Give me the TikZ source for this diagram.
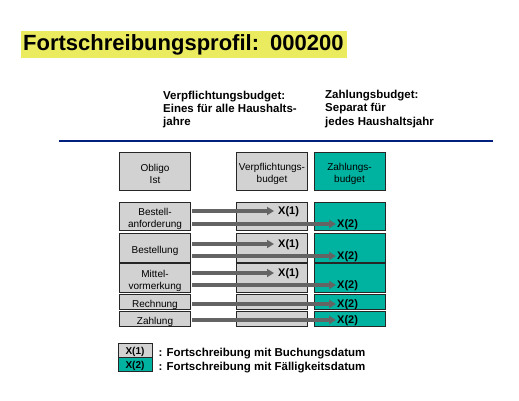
\documentclass[tikz,border=0pt]{standalone}
\usepackage{fontspec}
\setmainfont{Liberation Sans}
\usepackage{xcolor}
\usetikzlibrary{positioning,calc,arrows.meta}
\definecolor{titelgelb}{RGB}{235,235,96}
\definecolor{zahlgruen}{RGB}{0,178,160}
\definecolor{boxgrau}{RGB}{210,210,210}
\definecolor{pfeilgrau}{RGB}{100,100,100}
\definecolor{linienblau}{RGB}{0,32,128}

\begin{document}
\begin{tikzpicture}[x=1pt,y=-1pt,
    feld/.style={draw=black!85, line width=0.7pt, fill=boxgrau, minimum width=71pt,
      inner sep=0pt},
    zfeld/.style={feld, fill=zahlgruen},
    feldtext/.style={align=center, inner sep=0pt, yshift=-3pt,
      font=\fontsize{10}{12}\selectfont},
    marke/.style={font=\bfseries\fontsize{11}{12}\selectfont, inner sep=1pt, anchor=west,
      text height=7.9pt, text depth=0pt},
    pfeil/.style={line width=4.5pt, draw=pfeilgrau, shorten <=1pt,
      -{Triangle[length=7pt,width=8pt]}}]
    \useasboundingbox (0,0) rectangle (519,401);

    % Titel
    \node (titel) [fill=titelgelb, anchor=north west, minimum width=326pt, minimum height=27pt,
      text width=322pt, inner sep=2pt, align=left,
      font=\bfseries\fontsize{22}{24}\selectfont] at (21,31) {Fortschreibungsprofil: 000200};

    % Spaltenueberschriften
    \node (vbtext) [anchor=base west, align=left, inner sep=0pt,
      font=\bfseries\fontsize{11.5}{13}\selectfont] at (163,125)
      {Verpflichtungsbudget:\\Eines für alle Haushalts-\\jahre};
    \node (zbtext) [anchor=base west, align=left, inner sep=0pt,
      font=\bfseries\fontsize{11.5}{13.5}\selectfont] at (325,125)
      {Zahlungsbudget:\\Separat für\\jedes Haushaltsjahr};

    \coordinate (linielinks) at (59,141);
    \coordinate (linierechts) at (493,141);
    \draw[black!35, line width=0.8pt] ($(linielinks)+(0,-1)$) -- ($(linierechts)+(0,-1)$);
    \draw[linienblau, line width=1.2pt] (linielinks) -- (linierechts);

    % Kopfzeile
    \node (obligo) [feld, minimum height=38pt, label={[feldtext]center:{Obligo\\Ist}}]
      at (155,171) {};
    \node (vbkopf) [feld, minimum height=38pt, label={[feldtext]center:{Verpflichtungs-\\budget}}]
      at (272,171) {};
    \node (zbkopf) [zfeld, minimum height=38pt, label={[feldtext]center:{Zahlungs-\\budget}}]
      at (349.5,171) {};

    % Zeilen
    \foreach \n/\txt/\y/\h in {1/{Bestell-\\anforderung}/216/28, 2/Bestellung/247.5/29,
        3/{Mittel-\\vormerkung}/277.5/29, 4/Rechnung/301.5/15, 5/Zahlung/318.5/15} {
      \node (obl\n) [feld, minimum height=\h pt, label={[feldtext]center:{\txt}}] at (155,\y) {};
      \node (vb\n) [feld, minimum height=\h pt] at (272,\y) {};
      \node (zb\n) [zfeld, minimum height=\h pt] at (349.5,\y) {};
    }

    % Fortschreibung
    \foreach \n/\ya/\yb in {1/211/224, 2/244/256, 3/273/285} {
      \node (eins\n) [marke] at (277,\ya) {X(1)};
      \node (zwei\n) [marke] at (336,\yb) {X(2)};
      \draw[pfeil, shorten >=3pt] (obl\n.east |- eins\n.west) -- (eins\n.west);
      \draw[pfeil] (obl\n.east |- zwei\n.west) -- (zwei\n.west);
    }
    \foreach \n/\yb in {4/304, 5/320} {
      \node (zwei\n) [marke] at (336,\yb) {X(2)};
      \draw[pfeil] (obl\n.east |- zwei\n.west) -- (zwei\n.west);
    }

    % Legende
    \node (leg1) [feld, minimum width=34pt, minimum height=14pt,
      label={[feldtext, yshift=1.5pt, font=\bfseries\fontsize{10}{12}\selectfont]center:X(1)}]
      at (135,350) {};
    \node (leg2) [zfeld, minimum width=34pt, minimum height=14pt,
      label={[feldtext, yshift=1.5pt, font=\bfseries\fontsize{10}{12}\selectfont]center:X(2)}]
      at (135,364) {};
    \node (legtext1) [right=5pt of leg1, yshift=-3.5pt, inner sep=1pt,
      font=\bfseries\fontsize{11.5}{13}\selectfont] {: Fortschreibung mit Buchungsdatum};
    \node (legtext2) [right=5pt of leg2, yshift=-3.5pt, inner sep=1pt,
      font=\bfseries\fontsize{11.5}{13}\selectfont] {: Fortschreibung mit Fälligkeitsdatum};
\end{tikzpicture}
\end{document}
